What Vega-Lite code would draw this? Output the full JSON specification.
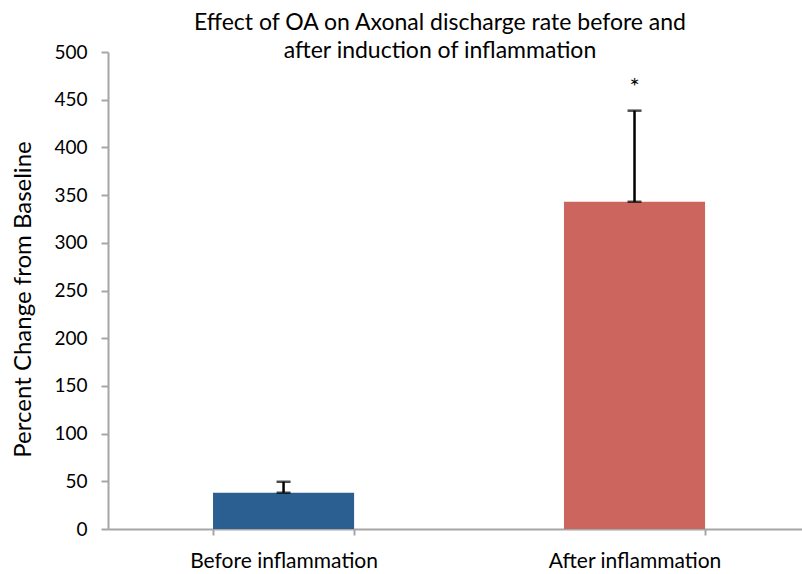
{
  "$schema": "https://vega.github.io/schema/vega-lite/v6.json",
  "width": 694,
  "height": 477,
  "autosize": {"type": "none"},
  "padding": {"left": 108, "top": 52, "right": 0, "bottom": 45},
  "background": "white",
  "title": {
    "text": ["Effect of OA on Axonal discharge rate before and", "after induction of inflammation"],
    "font": "Lato",
    "fontSize": 23,
    "fontWeight": "normal",
    "color": "black",
    "anchor": "middle",
    "dx": -15,
    "offset": -20,
    "lineHeight": 28
  },
  "data": {
    "values": [
      {"label": "Before inflammation", "value": 38, "upper": 49.5, "star": null},
      {"label": "After inflammation", "value": 343, "upper": 438.5, "star": "*", "starY": 462}
    ]
  },
  "encoding": {
    "x": {
      "field": "label",
      "type": "nominal",
      "sort": ["Before inflammation", "After inflammation"],
      "scale": {"paddingInner": 0.598, "paddingOuter": 0.2877, "align": 0.52},
      "axis": {
        "title": null,
        "labelAngle": 0,
        "labelFont": "Lato",
        "labelFontSize": 21,
        "labelColor": "black",
        "labelPadding": 15,
        "labelLimit": 0,
        "domainColor": "#A6A6A6",
        "domainWidth": 2,
        "tickColor": "#A6A6A6",
        "tickWidth": 2,
        "tickSize": 6,
        "tickBand": "extent"
      }
    }
  },
  "layer": [
    {
      "mark": {"type": "bar"},
      "encoding": {
        "y": {
          "field": "value",
          "type": "quantitative",
          "scale": {"domain": [0, 500], "nice": false},
          "axis": {
            "title": "Percent Change from Baseline",
            "titleFont": "Lato",
            "titleFontSize": 24,
            "titleFontWeight": "normal",
            "titleColor": "black",
            "titlePadding": 18,
            "titleY": 247,
            "values": [0, 50, 100, 150, 200, 250, 300, 350, 400, 450, 500],
            "grid": false,
            "labelFont": "Lato",
            "labelFontSize": 19,
            "labelColor": "black",
            "labelPadding": 14,
            "domainColor": "#A6A6A6",
            "domainWidth": 2,
            "tickColor": "#A6A6A6",
            "tickWidth": 2,
            "tickSize": 7
          }
        },
        "color": {
          "field": "label",
          "type": "nominal",
          "scale": {"domain": ["Before inflammation", "After inflammation"], "range": ["#2B5F92", "#CC655E"]},
          "legend": null
        }
      }
    },
    {
      "mark": {"type": "rule", "color": "black", "strokeWidth": 2.5},
      "encoding": {
        "y": {"field": "value", "type": "quantitative"},
        "y2": {"field": "upper"}
      }
    },
    {
      "mark": {"type": "tick", "color": "black", "thickness": 2.5, "size": 14},
      "encoding": {"y": {"field": "upper", "type": "quantitative"}}
    },
    {
      "mark": {"type": "tick", "color": "black", "thickness": 2.5, "size": 14},
      "encoding": {"y": {"field": "value", "type": "quantitative"}}
    },
    {
      "transform": [{"filter": "datum.star != null"}],
      "mark": {"type": "text", "font": "Lato", "fontSize": 24, "color": "black", "baseline": "middle"},
      "encoding": {
        "y": {"field": "starY", "type": "quantitative"},
        "text": {"field": "star"}
      }
    }
  ],
  "config": {"view": {"stroke": null}}
}
